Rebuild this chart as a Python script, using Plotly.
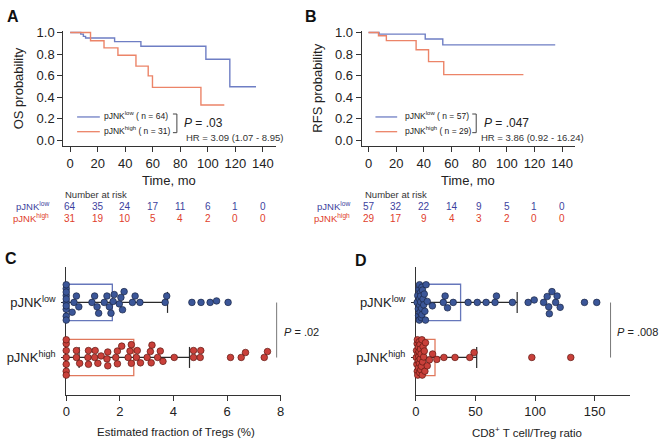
import numpy as np
import plotly.graph_objects as go

W, H = 660, 443
FONT = "Liberation Sans, Arial, sans-serif"

# ---------------- data ----------------
# Panel A (OS) Kaplan-Meier step points
a_low_t = [0, 7.7, 9.6, 11.2, 32.3, 51.4, 98.6, 116.0, 135.0]
a_low_s = [1.0, 0.985, 0.964, 0.949, 0.915, 0.873, 0.752, 0.498, 0.498]
a_high_t = [0, 14.8, 24.6, 34.7, 47.8, 56.7, 59.8, 95.0, 112.0]
a_high_s = [1.0, 0.924, 0.858, 0.789, 0.689, 0.598, 0.492, 0.329, 0.329]
# Panel B (RFS)
b_low_t = [0, 7.6, 41.0, 53.7, 135.0]
b_low_s = [1.0, 0.985, 0.94, 0.885, 0.885]
b_high_t = [0, 7.2, 12.9, 34.4, 43.4, 54.4, 112.0]
b_high_s = [1.0, 0.97, 0.925, 0.84, 0.73, 0.61, 0.61]

risk_times = [0, 20, 40, 60, 80, 100, 120, 140]
a_risk_low = [64, 35, 24, 17, 11, 6, 1, 0]
a_risk_high = [31, 19, 10, 5, 4, 2, 0, 0]
b_risk_low = [57, 32, 22, 14, 9, 5, 1, 0]
b_risk_high = [29, 17, 9, 4, 3, 2, 0, 0]

# Panel C: estimated fraction of Tregs (%)
c_low = [0, 0, 0, 0, 0, 0, 0, 0, 0, 0,
         0.22, 0.29, 0.38, 0.47, 0.96, 1.06, 1.15, 1.21, 1.42, 1.52, 1.61, 1.67,
         1.75, 1.79, 1.98, 2.04, 2.1, 2.16, 2.47, 2.57, 2.75, 3.69, 3.75,
         4.69, 5.03, 5.37, 5.61, 6.04]
c_high = [0, 0, 0, 0, 0, 0, 0,
          0.38, 0.38, 0.5, 0.81, 0.83, 0.83, 1.06, 1.08, 1.18, 1.3, 1.52, 1.55, 1.55,
          1.85, 1.91, 1.91, 2.07, 2.31, 2.38, 2.43, 2.43, 2.62, 2.65, 2.77, 3.02,
          3.14, 3.17, 3.2, 3.41, 3.51, 3.61, 4.03, 4.75, 4.75, 5.0, 5.02, 6.13,
          6.53, 6.69, 7.39, 7.51]
c_low_stats = dict(median=0.0, q3=1.72, whisker=3.78)
c_high_stats = dict(median=0.48, q3=2.52, whisker=4.6)

# Panel D: CD8+ T cell / Treg ratio
d_low = [1.0, 1.5, 2.0, 2.2, 2.5, 2.8, 3.0, 3.0, 3.2, 3.5, 3.8, 4.0, 4.0, 4.5, 4.8,
         5.0, 5.0, 5.5, 6.0, 6.5, 7.0, 7.5, 8.0, 8.5, 9.5,
         13.8, 23.0, 24.5, 26.5, 31.3, 43.8, 51.5, 58.9, 66.4, 67.6, 81.0, 94.2,
         99.3, 107.2, 110.2, 111.5, 112.0, 114.2, 117.3, 118.5, 121.1, 141.5, 151.8]
d_high = [0.3, 0.5, 0.8, 1.0, 1.1, 1.2, 1.5, 1.7, 2.0, 2.1, 2.2, 2.4, 2.6, 2.8, 3.0,
          3.2, 3.4, 3.6, 3.8, 4.0, 4.3, 4.6, 5.0, 5.3, 5.6, 6.0, 6.5, 7.0, 7.5, 8.0,
          9.5, 11.3, 14.0, 17.5, 23.5, 32.8, 45.2, 48.8, 97.3, 130.0]
d_low_stats = dict(median=5.0, q3=37.5, whisker=85.0)
d_high_stats = dict(median=3.0, q3=16.0, whisker=51.0)

groups = ["pJNK<sup>low</sup>", "pJNK<sup>high</sup>"]

# ---------------- colours ----------------
KM_BLUE, KM_RED = "#6e7ec4", "#ec8468"
TXT_BLUE, TXT_RED = "#3d3f9e", "#e0402c"
DOT_BLUE, DOT_BLUE_L = "#3b5698", "#1b2745"
DOT_RED, DOT_RED_L = "#c9403a", "#5e1812"
BOX_BLUE, BOX_RED = "#6677bb", "#e0785c"
AX = "#333333"


def px(x):
    return x / W


def py(y):
    return 1 - y / H


def swarm(values, sx, sy, diam=6.6, maxoff=18.0, step=0.5):
    """Simple beeswarm: vertical offsets (data units) from pixel scales."""
    vals = np.asarray(values, float)
    order = np.argsort(vals, kind="stable")
    c = np.arange(step, maxoff + 1e-9, step)
    cand = np.concatenate([[0.0], np.column_stack([c, -c]).ravel()])
    pxs, pys = [], []
    off = np.zeros(len(vals))
    for i in order:
        x = vals[i] * sx
        if pxs:
            dx = x - np.array(pxs)
            d = np.sqrt(dx[None, :] ** 2 + (cand[:, None] - np.array(pys)[None, :]) ** 2).min(axis=1)
            ok = np.where(d >= diam)[0]
            ch = cand[ok[0]] if len(ok) else cand[int(np.argmax(d))]
        else:
            ch = 0.0
        pxs.append(x)
        pys.append(ch)
        off[i] = ch / sy
    return off


fig = go.Figure()

# ---------------- KM panels ----------------
for xa, ya, series in [
    ("x", "y", [(a_low_t, a_low_s, KM_BLUE), (a_high_t, a_high_s, KM_RED)]),
    ("x2", "y2", [(b_low_t, b_low_s, KM_BLUE), (b_high_t, b_high_s, KM_RED)]),
]:
    for t, s, col in series:
        fig.add_trace(go.Scatter(x=t, y=s, mode="lines", line=dict(color=col, width=1.4, shape="hv"),
                                 xaxis=xa, yaxis=ya, hoverinfo="skip"))

# ---------------- dot panels ----------------
SY = 56.0
for xa, ya, sx, data in [
    ("x3", "y3", 27.1, [(c_low, c_low_stats, 1, DOT_BLUE, DOT_BLUE_L, BOX_BLUE),
                        (c_high, c_high_stats, 0, DOT_RED, DOT_RED_L, BOX_RED)]),
    ("x4", "y4", 1.207, [(d_low, d_low_stats, 1, DOT_BLUE, DOT_BLUE_L, BOX_BLUE),
                         (d_high, d_high_stats, 0, DOT_RED, DOT_RED_L, BOX_RED)]),
]:
    for vals, st, yc, fc, lc, bc in data:
        fig.add_trace(go.Bar(x=[st["q3"]], y=[yc], base=0, orientation="h", width=0.66,
                             marker=dict(color="rgba(0,0,0,0)", line=dict(color=bc, width=1.3)),
                             xaxis=xa, yaxis=ya, hoverinfo="skip"))
        fig.add_trace(go.Scatter(x=[0, st["whisker"]], y=[yc, yc], mode="lines",
                                 line=dict(color="#2a2a2a", width=1.2), cliponaxis=False,
                                 xaxis=xa, yaxis=ya, hoverinfo="skip"))
        fig.add_trace(go.Scatter(x=[st["median"], st["whisker"]], y=[yc, yc], mode="markers",
                                 marker=dict(symbol="line-ns", size=15, line=dict(color="#2a2a2a", width=1.2)),
                                 cliponaxis=False, xaxis=xa, yaxis=ya, hoverinfo="skip"))
        off = swarm(vals, sx, SY)
        fig.add_trace(go.Scatter(x=vals, y=yc + off, mode="markers", cliponaxis=False,
                                 marker=dict(size=6.6, color=fc, line=dict(color=lc, width=0.7)),
                                 xaxis=xa, yaxis=ya, hoverinfo="skip"))

# ---------------- axes ----------------
tickfont = dict(family=FONT, size=13, color="#222")
common = dict(showline=True, linecolor=AX, linewidth=1, ticks="outside", ticklen=5, tickwidth=1,
              tickcolor=AX, showgrid=False, zeroline=False, tickfont=tickfont, fixedrange=True)

km_y = dict(domain=[py(143), py(25)], range=[-0.055, 1.018], tickvals=[0, 0.2, 0.4, 0.6, 0.8, 1.0],
            tickformat=".1f", **common)
km_x = dict(range=[-5, 149.3], tickvals=risk_times, **common)

dot_y = dict(domain=[py(396), py(266)], range=[-0.68, 1.64], tickvals=[1, 0], ticktext=groups,
             ticklen=4, layer="below traces", ticklabelstandoff=3,
             **{k: v for k, v in common.items() if k != "ticklen"})
dot_x_common = dict(layer="below traces", **common)

fig.update_layout(
    xaxis=dict(domain=[px(60), px(275)], anchor="y", **km_x),
    yaxis=dict(anchor="x", **km_y),
    xaxis2=dict(domain=[px(362), px(578)], anchor="y2", **km_x),
    yaxis2=dict(anchor="x2", **km_y),
    xaxis3=dict(domain=[px(63), px(280)], anchor="y3", range=[0, 8], tickvals=[0, 2, 4, 6, 8], **dot_x_common),
    yaxis3=dict(anchor="x3", **dot_y),
    xaxis4=dict(domain=[px(417), px(634)], anchor="y4", range=[0, 180], tickvals=[0, 50, 100, 150], **dot_x_common),
    yaxis4=dict(anchor="x4", **dot_y),
)

# ---------------- annotations ----------------
ann = []


def text(x, y, t, size=13, color="#222", xanchor="center", angle=0, xref="paper"):
    ann.append(dict(x=x if xref != "paper" else px(x), y=py(y), xref=xref, yref="paper", text=t,
                    showarrow=False, xanchor=xanchor, yanchor="middle", textangle=angle,
                    font=dict(family=FONT, size=size, color=color)))


# panel letters
for lx, ly, lt in [(9, 11, "A"), (311, 11, "B"), (7, 257, "C"), (361, 259, "D")]:
    text(lx, ly, "<b>" + lt + "</b>", size=16, color="#111")

# KM axis titles
text(15, 84, "OS probability", size=13, angle=-90)
text(317, 84, "RFS probability", size=13, angle=-90)
text(167, 178, "Time, mo", size=13)
text(470, 178, "Time, mo", size=13)

# KM legends
shapes = []


def seg(x0, y0, x1, y1, color, width=1.3):
    shapes.append(dict(type="line", xref="paper", yref="paper", x0=px(x0), y0=py(y0), x1=px(x1), y1=py(y1),
                       line=dict(color=color, width=width)))


for (lx0, lx1, tx, brx, ptx, hrx, nlow, nhigh, pv, hr) in [
    (74, 97, 99, 171, 180, 182, 64, 31, ".03", "HR = 3.09 (1.07 - 8.95)"),
    (376, 398, 404, 474, 484, 481, 57, 29, ".047", "HR = 3.86 (0.92 - 16.24)"),
]:
    seg(lx0, 113, lx1, 113, KM_BLUE)
    seg(lx0, 128, lx1, 128, KM_RED)
    text(tx, 112, "pJNK<sup>low</sup> ( n = %d)" % nlow, size=8.5, xanchor="left")
    text(tx, 127, "pJNK<sup>high</sup> ( n = %d)" % nhigh, size=8.5, xanchor="left")
    seg(brx, 110, brx + 4, 110, "#444", 1)
    seg(brx + 4, 110, brx + 4, 129, "#444", 1)
    seg(brx, 129, brx + 4, 129, "#444", 1)
    text(ptx, 119, "<i>P</i> = " + pv, size=12, xanchor="left")
    text(hrx, 134, hr, size=9.5, color="#333", xanchor="left")

# number at risk tables
for xref, hx, lblx, rl, rh in [("x", 60, 48, a_risk_low, a_risk_high),
                               ("x2", 363, 352, b_risk_low, b_risk_high)]:
    text(hx, 192, "Number at risk", size=9.5, color="#333", xanchor="left")
    text(lblx, 204, "pJNK<sup>low</sup>", size=9.5, color=TXT_BLUE, xanchor="right")
    text(lblx, 216, "pJNK<sup>high</sup>", size=9.5, color=TXT_RED, xanchor="right")
    for t, n in zip(risk_times, rl):
        text(t, 204, str(n), size=10, color=TXT_BLUE, xref=xref)
    for t, n in zip(risk_times, rh):
        text(t, 216, str(n), size=10, color=TXT_RED, xref=xref)

# dot panel titles and p values
text(174, 434, "Estimated fraction of Tregs (%)", size=11.5)
text(529, 434, "CD8<sup>+</sup> T cell/Treg ratio", size=11.5)
seg(276, 302, 276, 358, "#777", 1)
text(281, 332, "<i>P</i> = .02", size=11, xanchor="left")
seg(614, 302, 614, 358, "#777", 1)
text(619, 332, "<i>P</i> = .008", size=11, xanchor="left")

fig.update_layout(
    width=W, height=H, margin=dict(l=0, r=0, t=0, b=0),
    paper_bgcolor="white", plot_bgcolor="white", showlegend=False, hovermode=False,
    annotations=ann, shapes=shapes, font=dict(family=FONT, color="#222"),
)

fig.write_html("out.html", config={"displayModeBar": False, "staticPlot": True},
               post_script="document.body.style.margin='0';document.body.style.padding='0';"
                           "document.body.style.overflow='hidden';")
